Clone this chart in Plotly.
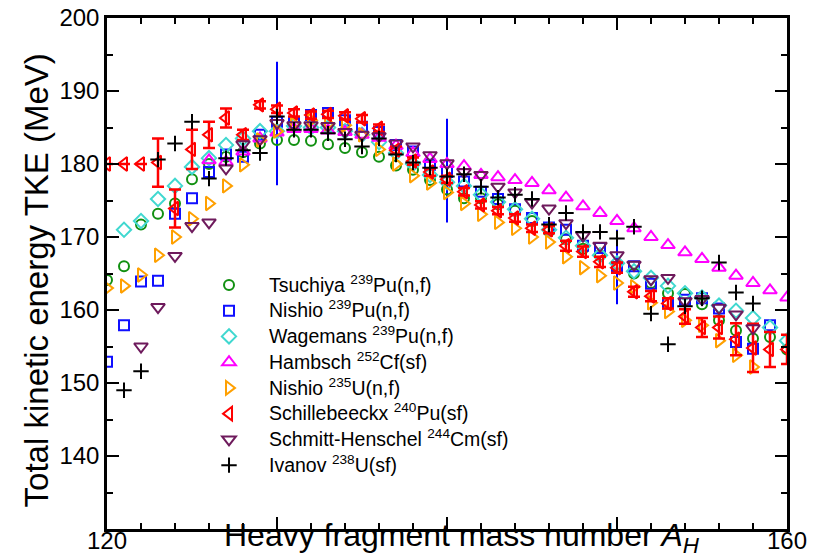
import plotly.graph_objects as go

# ---------------- data ----------------
A_tsuchiya = list(range(120, 161))
tke_tsuchiya = [164.1, 166.0, 171.7, 173.2, 174.6, 177.9, 180.0, 181.0, 181.6, 182.8,
                183.3, 183.3, 183.2, 182.7, 182.2, 181.6, 181.0, 179.8, 179.2, 177.8,
                176.5, 175.3, 175.3, 174.5, 173.6, 172.2, 170.8, 169.7, 168.4, 167.5,
                165.9, 165.0, 163.7, 162.3, 162.2, 160.8, 158.6, 157.2, 156.1, 156.3,
                154.6]

A_nishio239 = list(range(120, 160))
tke_nishio239 = [152.9, 157.9, 163.9, 164.0, 173.2, 175.3, 178.9, 181.3, 181.0, 184.0,
                 185.8, 185.6, 186.7, 187.0, 186.0, 185.1, 184.4, 182.6, 181.7, 179.9,
                 178.9, 177.6, 176.2, 175.2, 173.8, 172.6, 171.3, 171.0, 168.8, 168.5,
                 165.9, 166.0, 163.6, 160.9, 161.4, 161.6, 160.2, 155.6, 154.7, 157.9]

A_wagemans = list(range(121, 161))
tke_wagemans = [171.0, 172.2, 175.2, 177.0, 179.6, 180.8, 182.6, 183.5, 184.5, 184.5,
                185.2, 185.0, 185.0, 184.5, 184.0, 183.0, 181.5, 180.0, 178.5, 177.5,
                177.0, 175.8, 174.8, 173.8, 172.5, 171.0, 169.9, 168.8, 167.5, 166.4,
                165.3, 164.4, 163.3, 162.3, 161.7, 160.6, 159.9, 158.9, 157.6, 155.8]

A_hambsch = list(range(126, 161))
tke_hambsch = [180.5, 180.3, 181.7, 183.5, 184.3, 184.8, 184.8, 184.6, 184.4, 184.0,
               183.6, 182.5, 181.5, 180.7, 180.0, 179.7, 178.5, 178.2, 177.8, 177.4,
               176.4, 175.4, 174.2, 173.3, 172.2, 171.2, 170.0, 168.9, 167.9, 167.0,
               165.8, 164.7, 163.7, 162.7, 161.7]

A_nishio235 = list(range(120, 159))
tke_nishio235 = [163.0, 163.3, 164.8, 167.5, 170.0, 172.5, 174.6, 177.0, 179.9, 183.3,
                 184.5, 185.5, 186.0, 185.5, 185.3, 184.0, 182.0, 180.0, 178.4, 177.4,
                 176.1, 174.6, 173.1, 172.0, 171.2, 170.0, 169.3, 167.3, 165.8, 164.7,
                 163.7, 163.2, 161.0, 159.8, 158.6, 157.9, 155.8, 153.8, 152.2]

A_schille = list(range(120, 161))
tke_schille = [180.0, 180.0, 180.0, 180.2, 173.9, 182.0, 184.0, 186.3, 184.0, 188.1,
               187.5, 187.0, 186.7, 186.8, 186.6, 186.2, 184.9, 181.9, 180.4, 178.9,
               177.9, 176.2, 174.4, 173.6, 172.6, 171.2, 171.0, 168.8, 168.0, 166.6,
               165.8, 162.5, 161.9, 160.9, 159.1, 157.6, 157.6, 156.0, 154.8, 154.6,
               154.6]
err_schille = [0.0, 0.0, 0.0, 3.3, 2.6, 2.7, 1.8, 1.3, 0.7, 0.5,
               0.5, 0.5, 0.5, 0.5, 0.5, 0.5, 0.5, 0.5, 0.5, 0.5,
               0.5, 0.5, 0.5, 0.5, 0.5, 0.5, 0.5, 0.7, 0.7, 0.7,
               0.7, 0.7, 0.7, 0.7, 1.0, 1.3, 1.5, 2.2, 3.3, 2.4,
               2.0]

A_schmitt = list(range(122, 159))
tke_schmitt = [155.0, 160.4, 167.4, 171.5, 172.0, 179.4, 182.7, 183.4, 185.6, 185.3,
               185.3, 185.2, 184.4, 184.0, 183.8, 182.8, 182.4, 181.2, 180.1, 178.9,
               178.5, 176.9, 176.1, 174.7, 173.9, 171.9, 170.2, 168.8, 167.5, 166.2,
               164.2, 164.4, 161.2, 161.5, 160.3, 159.4, 157.5]

A_ivanov = list(range(121, 159))
tke_ivanov = [149.0, 151.6, 180.6, 182.8, 185.8, 178.0, 180.8, 181.9, 181.5, 186.5,
              184.7, 184.7, 184.2, 183.4, 182.4, 183.5, 181.3, 180.2, 179.5, 178.3,
              178.6, 176.9, 175.4, 175.8, 175.2, 171.7, 173.3, 170.7, 170.7, 169.8,
              171.4, 159.5, 155.3, 160.5, 161.6, 166.5, 162.4, 160.9]

# representative uncertainty bars (blue vertical lines)
A_bar = [130, 140, 150]
bar_lo = [177.1, 172.0, 160.8]
bar_hi = [194.0, 186.2, 171.0]

x_ticks = [120, 130, 140, 150, 160]
x_ticklabels = ["120", "", "", "", "160"]
y_ticks = [140, 150, 160, 170, 180, 190, 200]

FONT = "Liberation Sans, Arial, Helvetica, sans-serif"


def lg(text):
    return '<span style="font-size:19.5px">' + text + '</span>'


# ---------------- figure ----------------
fig = go.Figure()

bx, by = [], []
for a, lo, hi in zip(A_bar, bar_lo, bar_hi):
    bx += [a, a, None]
    by += [lo, hi, None]
fig.add_trace(go.Scatter(x=bx, y=by, mode="lines", line=dict(color="#0000ff", width=2),
                         showlegend=False, hoverinfo="skip"))

series = [
    ("Tsuchiya <sup>239</sup>Pu(n,f)", A_tsuchiya, tke_tsuchiya, "circle-open", "#119011", 10),
    ("Nishio <sup>239</sup>Pu(n,f)", A_nishio239, tke_nishio239, "square-open", "#1010ff", 10),
    ("Wagemans <sup>239</sup>Pu(n,f)", A_wagemans, tke_wagemans, "diamond-open", "#40d8d0", 11),
    ("Hambsch <sup>252</sup>Cf(sf)", A_hambsch, tke_hambsch, "triangle-up-open", "#ff00ff", 12),
    ("Nishio <sup>235</sup>U(n,f)", A_nishio235, tke_nishio235, "triangle-right-open", "#ffa000", 12),
]
for name, xs, ys, sym, col, sz in series:
    fig.add_trace(go.Scatter(x=xs, y=ys, mode="markers", name=lg(name),
                             marker=dict(symbol=sym, size=sz, color=col,
                                         line=dict(color=col, width=2))))

fig.add_trace(go.Scatter(x=A_schille, y=tke_schille, mode="markers",
                         name=lg("Schillebeeckx <sup>240</sup>Pu(sf)"),
                         marker=dict(symbol="triangle-left-open", size=12, color="#ff0000",
                                     line=dict(color="#ff0000", width=2)),
                         error_y=dict(type="data", array=err_schille, color="#ff0000",
                                      thickness=2.5, width=6)))

fig.add_trace(go.Scatter(x=A_schmitt, y=tke_schmitt, mode="markers",
                         name=lg("Schmitt-Henschel <sup>244</sup>Cm(sf)"),
                         marker=dict(symbol="triangle-down-open", size=12, color="#6e1a5c",
                                     line=dict(color="#6e1a5c", width=2))))

fig.add_trace(go.Scatter(x=A_ivanov, y=tke_ivanov, mode="markers",
                         name=lg("Ivanov <sup>238</sup>U(sf)"),
                         marker=dict(symbol="cross-thin-open", size=11, color="#000000",
                                     line=dict(color="#000000", width=2))))

axis_common = dict(showline=True, linecolor="black", linewidth=2.5, mirror="allticks",
                   ticks="inside", ticklen=12, tickwidth=2, tickcolor="black",
                   showgrid=False, zeroline=False, automargin=False,
                   tickfont=dict(family=FONT, size=24, color="black"))

fig.update_xaxes(range=[120, 160], tickmode="array", tickvals=x_ticks, ticktext=x_ticklabels,
                 ticklabelstandoff=-12,
                 minor=dict(ticks="inside", dtick=2, tick0=120, ticklen=6, tickwidth=2,
                            tickcolor="black"),
                 **axis_common)
fig.update_yaxes(range=[130, 200], tickmode="array", tickvals=y_ticks,
                 minor=dict(ticks="inside", dtick=5, tick0=130, ticklen=6, tickwidth=2,
                            tickcolor="black"),
                 **axis_common)

fig.add_annotation(text="Heavy fragment mass number <i>A</i><sub><i>H</i></sub>",
                   xref="paper", yref="paper", x=0.522, y=0.028, xanchor="center",
                   yanchor="top", showarrow=False,
                   font=dict(family=FONT, size=32, color="black"))
fig.add_annotation(text="Total kinetic energy TKE (MeV)", textangle=-90,
                   xref="paper", yref="paper", x=-0.104, y=0.487, xanchor="center",
                   yanchor="middle", showarrow=False,
                   font=dict(family=FONT, size=33, color="black"))

fig.update_layout(
    width=821, height=558,
    margin=dict(l=107, r=34, t=18, b=29),
    plot_bgcolor="white", paper_bgcolor="white",
    font=dict(family=FONT, color="black"),
    legend=dict(x=0.1206, y=0.5127, xanchor="left", yanchor="top",
                bgcolor="rgba(0,0,0,0)", borderwidth=0, itemwidth=70,
                font=dict(family=FONT, size=17.5, color="black"),
                tracegroupgap=0),
)

fig.write_html("out.html")
